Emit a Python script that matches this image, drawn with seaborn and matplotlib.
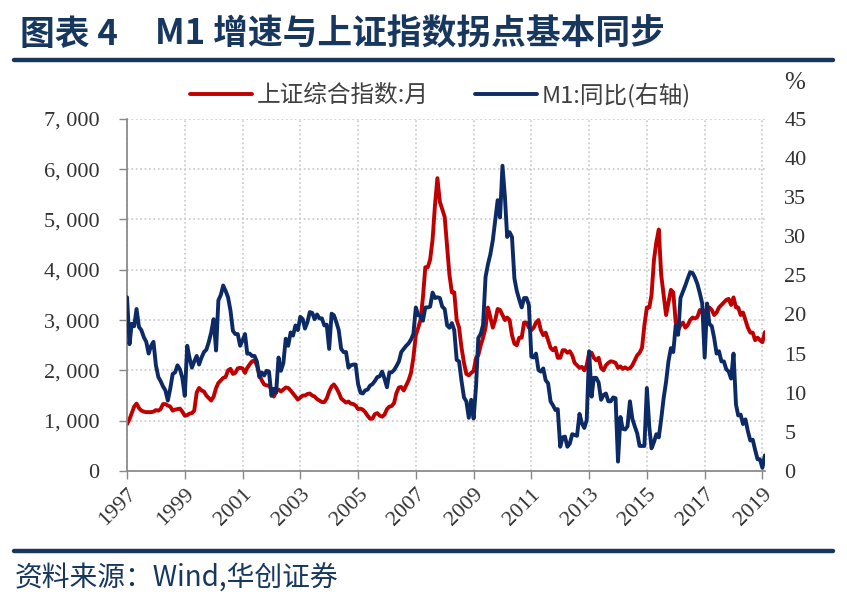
import pandas as pd
import matplotlib.pyplot as plt
import seaborn as sns
from matplotlib.lines import Line2D
from matplotlib.ticker import FuncFormatter

# 上证综合指数 monthly average, Jan 1997 - Feb 2019 (one row per year)
sse = [
    930, 1030, 1150, 1280, 1340, 1250, 1200, 1180, 1170, 1170, 1170, 1180,
    1210, 1200, 1230, 1330, 1330, 1300, 1280, 1200, 1220, 1230, 1240, 1180,
    1100, 1110, 1140, 1150, 1200, 1560, 1650, 1600, 1580, 1500, 1450, 1400,
    1480, 1650, 1750, 1800, 1850, 1870, 2000, 2030, 1930, 1950, 2040, 2050,
    2040, 1950, 2050, 2120, 2180, 2200, 2100, 1920, 1800, 1720, 1700, 1700,
    1620, 1480, 1580, 1620, 1580, 1620, 1660, 1650, 1600, 1540, 1480, 1420,
    1460, 1500, 1500, 1530, 1540, 1500, 1480, 1430, 1400, 1370, 1370, 1440,
    1580, 1680, 1720, 1650, 1560, 1440, 1400, 1360, 1380, 1340, 1330, 1300,
    1230, 1240, 1220, 1170, 1100, 1040, 1040, 1130, 1150, 1100, 1080, 1120,
    1230, 1280, 1290, 1350, 1550, 1660, 1670, 1600, 1700, 1800, 1950, 2250,
    2700, 2850, 3000, 3450, 4050, 4050, 4200, 4600, 5300, 5820, 5350, 5200,
    5050, 4450, 3900, 3550, 3550, 3000, 2850, 2450, 2150, 1930, 1900, 1950,
    1990, 2250, 2300, 2500, 2650, 2850, 3250, 3050, 2850, 3000, 3220, 3200,
    3100, 3000, 3050, 3000, 2700, 2530, 2500, 2650, 2650, 2950, 2950, 2850,
    2800, 2850, 2950, 3000, 2800, 2700, 2750, 2600, 2450, 2400, 2450, 2250,
    2250, 2400, 2400, 2350, 2380, 2300, 2150, 2100, 2050, 2070, 2000, 2100,
    2350, 2350, 2250, 2200, 2250, 2050, 2000, 2100, 2150, 2180, 2170, 2150,
    2050, 2080, 2030, 2060, 2030, 2040, 2100, 2200, 2300, 2350, 2450, 2900,
    3250, 3250, 3500, 4200, 4550, 4800, 3900, 3500, 3100, 3350, 3600, 3550,
    2950, 2800, 2900, 2950, 2850, 2900, 3000, 3050, 3030, 3060, 3200, 3150,
    3150, 3250, 3250, 3200, 3100, 3150, 3250, 3300, 3350, 3400, 3420, 3300,
    3450, 3250, 3250, 3100, 3150, 3000, 2850, 2750, 2750, 2600, 2650, 2600,
    2560, 2760,
]

# M1 同比 (%), same months
m1 = [
    22.2, 16.2, 18.8, 18.5, 20.7, 18.4, 18.0, 17.1, 16.5, 15.0, 16.0, 16.5,
    13.5, 12.0, 11.5, 10.8, 10.3, 9.0, 10.5, 12.4, 12.6, 13.5, 13.0, 11.9,
    9.6, 16.0, 14.5, 13.2, 14.0, 14.7, 13.6, 14.5, 15.2, 15.5, 16.5, 17.7,
    19.4, 15.4, 21.8, 22.5, 23.7, 23.0, 22.2, 20.5, 17.9, 17.5, 17.5, 16.0,
    16.7, 17.5, 15.0, 15.0, 14.7, 14.7, 14.0, 12.0, 12.6, 12.2, 12.8, 12.7,
    9.6, 10.5, 10.0, 14.5, 12.8, 13.8, 16.9, 16.0, 17.7, 17.3, 18.6, 18.0,
    19.7, 19.4, 18.2, 19.0, 20.3, 20.2, 19.4, 20.0, 19.5, 19.5, 18.6, 18.7,
    15.6, 20.1, 19.9, 19.0, 18.0, 15.6, 15.2, 15.2, 13.2, 13.5, 13.6, 13.6,
    11.1, 10.0, 9.9, 10.3, 10.4, 10.9, 11.1, 11.5, 12.0, 12.1, 12.7, 11.8,
    10.7, 12.6, 12.6, 12.9, 13.4, 14.0, 15.2, 15.6, 16.0, 16.3, 16.8, 17.5,
    20.9, 19.9, 19.8, 19.2, 20.9, 20.9, 21.0, 22.8, 22.1, 22.2, 22.1, 21.0,
    20.7, 18.6, 18.3, 18.9, 18.0, 14.2, 14.0, 11.5, 9.4, 8.9, 6.8, 9.1,
    6.7, 10.9, 17.0, 17.5, 18.7, 24.8, 26.4, 27.7, 29.5, 32.0, 34.6, 32.4,
    39.0, 35.0, 29.9, 30.5, 29.9, 24.6, 23.0, 21.9, 20.9, 22.1, 22.1, 21.2,
    14.6, 14.5, 15.0, 12.9, 12.7, 13.1, 11.6, 11.2, 8.9, 8.4, 7.8, 7.9,
    3.1, 4.3, 4.4, 3.1, 3.5, 4.7, 4.6, 4.5, 7.3, 6.1, 5.5, 6.5,
    15.3, 9.5, 11.9, 11.9, 11.3, 9.1, 9.7, 9.9, 8.9, 8.9, 9.4, 9.3,
    1.2, 6.9, 5.4, 5.3, 5.7, 8.9, 6.7, 5.7, 4.8, 3.2, 3.2, 3.2,
    10.6, 5.6, 2.9, 3.7, 4.7, 4.3, 6.6, 9.3, 11.4, 14.0, 15.7, 15.2,
    18.6, 17.4, 22.1, 22.9, 23.7, 24.6, 25.4, 25.3, 24.7, 23.9, 22.7, 21.4,
    14.5, 21.4, 18.8, 18.5, 17.0, 15.0, 15.3, 14.0, 14.0, 13.0, 12.7, 11.8,
    15.0, 8.5, 7.1, 7.2, 6.0, 6.6, 5.1, 3.9, 4.0, 2.7, 1.5, 1.5,
    0.4, 2.0,
]

dates = pd.date_range('1997-01-01', periods=len(sse), freq='MS')
tick_years = list(range(1997, 2020, 2))

red = '#C00000'
navy = '#0C2A66'
title_blue = '#17375E'

sns.set_theme(style='white')
plt.rcParams['font.family'] = ['Noto Sans CJK SC', 'DejaVu Sans']

fig = plt.figure(figsize=(8.47, 6.0), dpi=100)
ax = fig.add_axes([0.150, 0.215, 0.753, 0.587])
ax2 = ax.twinx()

sns.lineplot(x=dates, y=sse, ax=ax, color=red, lw=2.8, label='上证综合指数:月', legend=False)
sns.lineplot(x=dates, y=m1, ax=ax2, color=navy, lw=2.8, label='M1:同比(右轴)', legend=False)

ax.set_xlim(dates[0], dates[-1])
ax.set_ylim(0, 7000)
ax2.set_ylim(0, 45)
ax.set_yticks(range(0, 7001, 1000))
ax2.set_yticks(range(0, 46, 5))
ax.set_xticks([pd.Timestamp(f'{y}-01-01') for y in tick_years])
ax.set_xticklabels([str(y) for y in tick_years], rotation=45, ha='right',
                   rotation_mode='anchor', fontfamily='Liberation Serif', fontsize=16, color='#333333')
ax.yaxis.set_major_formatter(FuncFormatter(lambda v, p: f'{int(v):,}'.replace(',', ', ')))
for t in ax.get_yticklabels():
    t.set_fontfamily('Liberation Serif')
for t in ax2.get_yticklabels():
    t.set_fontfamily('Liberation Serif')
ax.tick_params(axis='y', labelsize=16, labelcolor='#333333', length=6, width=1, color='#888888',
               direction='out', left=True, pad=14)
ax.tick_params(axis='x', length=6, width=1, color='#888888', direction='out', bottom=True, pad=4)
ax2.tick_params(axis='y', labelsize=16, labelcolor='#333333', length=0, pad=14)

ax.grid(True, color='#C8C8C8', linestyle=':', linewidth=1.2)
for s in ['top', 'right']:
    ax.spines[s].set_visible(False)
for s in ['top', 'right', 'left', 'bottom']:
    ax2.spines[s].set_visible(False)
ax.spines['left'].set_color('#888888')
ax.spines['bottom'].set_color('#888888')
ax.set_xlabel('')
ax.set_ylabel('')
ax2.set_ylabel('')

h1, l1 = ax.get_legend_handles_labels()
h2, l2 = ax2.get_legend_handles_labels()
fig.legend(h1 + h2, l1 + l2, loc='center', bbox_to_anchor=(0.52, 0.842), ncol=2, frameon=False,
           fontsize=17, handlelength=2.6, columnspacing=2.0, handletextpad=0.2, labelcolor='#404040')

fig.text(0.938, 0.862, '%', fontsize=18, color='#333333', ha='center', va='center',
         fontfamily='Liberation Serif')

fig.text(0.024, 0.943, '图表 4', fontsize=25, fontweight='bold',
         color=title_blue, ha='left', va='center')
fig.text(0.183, 0.943, 'M1 增速与上证指数拐点基本同步', fontsize=25, fontweight='bold',
         color=title_blue, ha='left', va='center')
fig.add_artist(Line2D([0.017, 0.983], [0.900, 0.900], color=title_blue, lw=3.2))
fig.add_artist(Line2D([0.017, 0.983], [0.082, 0.082], color=title_blue, lw=3.2))
fig.text(0.017, 0.036, '资料来源：Wind,华创证券', fontsize=20, color=title_blue, style='italic',
         ha='left', va='center')

fig.savefig('out.png', dpi=100)
